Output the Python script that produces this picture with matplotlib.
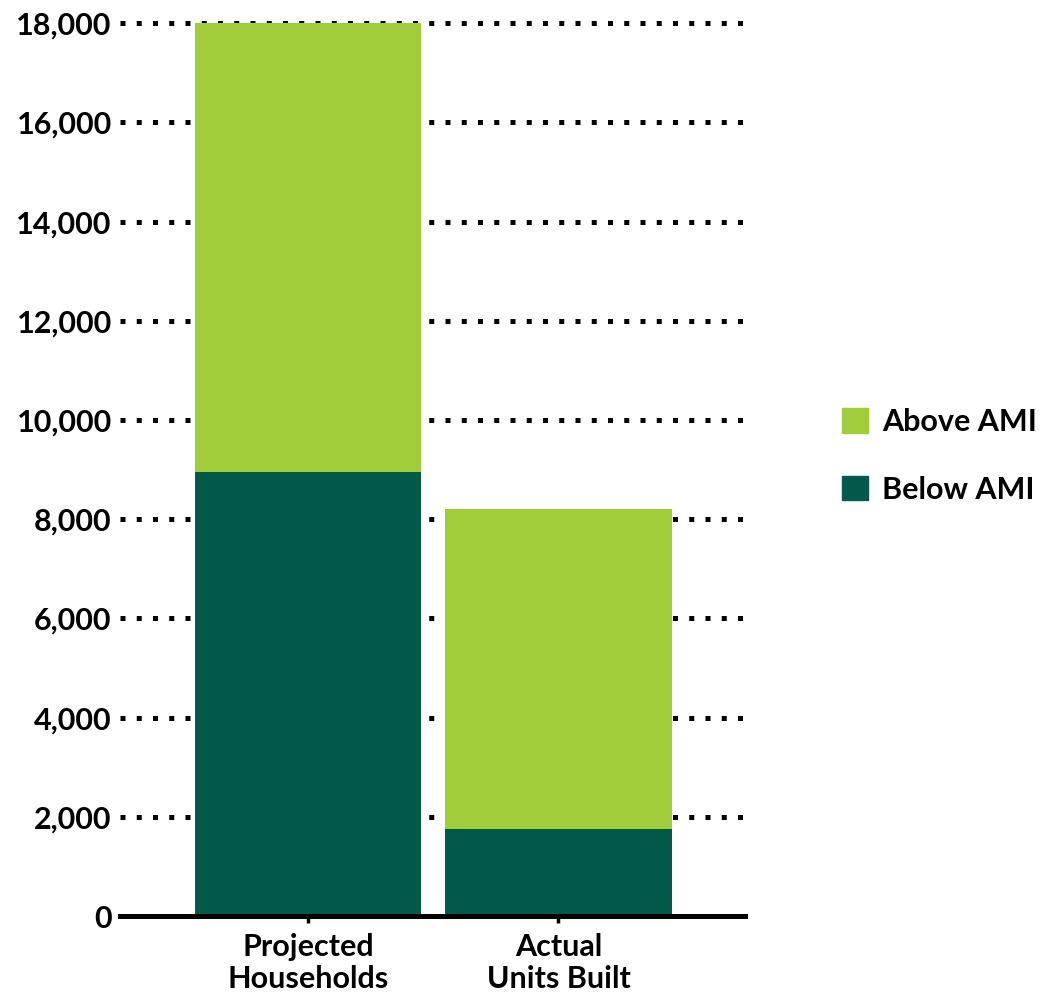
import matplotlib
matplotlib.use("Agg")
import matplotlib.pyplot as plt
from matplotlib.patches import Patch

# housing totals by category
categories = ["Projected\nHouseholds", "Actual\nUnits Built"]
below_ami = [8950, 1750]
above_ami = [9050, 6450]
yticks = [0, 2000, 4000, 6000, 8000, 10000, 12000, 14000, 16000, 18000]

light_green = "#A1CD3A"
dark_green = "#02594A"

plt.rcParams["font.family"] = ["Lato", "DejaVu Sans"]
label_font = {"size": 22, "weight": "bold"}

fig = plt.figure(figsize=(10.53, 9.97), dpi=100)
ax = fig.add_axes([0.114, 0.0812, 0.5935, 0.9054])

x = range(len(categories))
ax.bar(x, below_ami, width=0.905, color=dark_green, zorder=3)
ax.bar(x, above_ami, width=0.905, bottom=below_ami, color=light_green, zorder=3)

ax.set_xlim(-0.75, 1.745)
ax.set_ylim(0, 18200)
ax.set_yticks(yticks)
ax.set_yticklabels([f"{v:,}" for v in yticks], **label_font)
ax.set_xticks(list(x))
ax.set_xticklabels(categories, linespacing=1.17, **label_font)

# dotted gridlines
for v in yticks[1:]:
    ax.axhline(v, color="black", lw=3.6, linestyle=(0, (1, 2.25)),
               dash_capstyle="butt", zorder=1)

for side in ["left", "right", "top"]:
    ax.spines[side].set_visible(False)
ax.spines["bottom"].set_linewidth(3.6)
ax.spines["bottom"].set_zorder(4)
ax.tick_params(axis="y", length=0, pad=6)
ax.tick_params(axis="x", length=5, width=2.5, pad=7)

handles = [Patch(color=light_green, label="Above AMI"),
           Patch(color=dark_green, label="Below AMI")]
fig.legend(handles=handles, loc="center left", bbox_to_anchor=(0.80, 0.5426),
           frameon=False, prop=label_font, borderpad=0, borderaxespad=0,
           handlelength=0.85, handleheight=0.85, handletextpad=0.45,
           labelspacing=1.3)

fig.savefig("out.png", dpi=100)
